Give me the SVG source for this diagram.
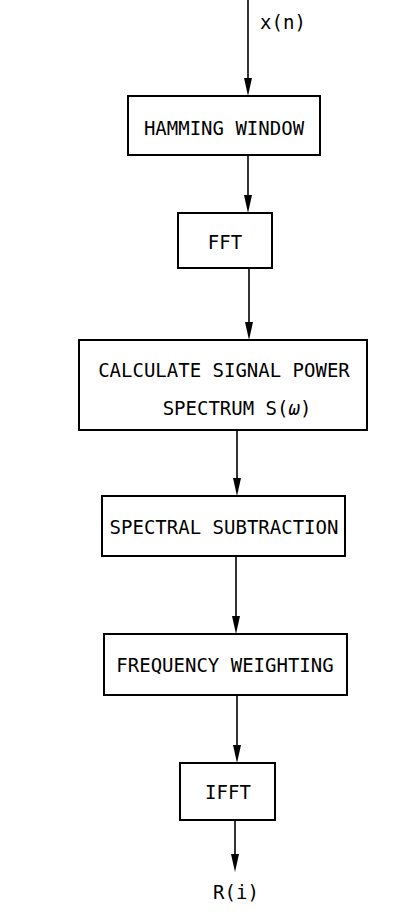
<svg xmlns="http://www.w3.org/2000/svg" width="414" height="923" viewBox="0 0 414 923">
<defs>
<marker id="ah" markerWidth="8" markerHeight="16" refX="4" refY="16" orient="auto" markerUnits="userSpaceOnUse" viewBox="0 0 8 16"><path d="M0,0 L8,0 L4,16 Z" fill="#000"/></marker>
<style>
.box{fill:#fff;stroke:#000;stroke-width:2}
.t{font-family:"DejaVu Sans Mono","Liberation Mono",monospace;font-size:19px;fill:#000;text-anchor:middle}
.c{stroke:#000;stroke-width:1.6;fill:none}
</style>
</defs>
<rect width="414" height="923" fill="#fff"/>
<g id="connectors">
<line class="c" x1="248" y1="0" x2="248" y2="80"/><path d="M244,78 L252,78 L248,96 Z"/>
<line class="c" x1="248" y1="155" x2="248" y2="197"/><path d="M244,195 L252,195 L248,213 Z"/>
<line class="c" x1="249" y1="268" x2="249" y2="324"/><path d="M245,322 L253,322 L249,340 Z"/>
<line class="c" x1="237" y1="430" x2="237" y2="480"/><path d="M233,478 L241,478 L237,496 Z"/>
<line class="c" x1="236" y1="556" x2="236" y2="618"/><path d="M232,616 L240,616 L236,634 Z"/>
<line class="c" x1="237" y1="695" x2="237" y2="747"/><path d="M233,745 L241,745 L237,763 Z"/>
<line class="c" x1="235" y1="820" x2="235" y2="856"/><path d="M231,854 L239,854 L235,872 Z"/>
</g>
<text class="t" x="283" y="29">x(n)</text>
<g id="hamming"><rect class="box" x="128" y="96" width="192" height="59"/><text class="t" x="224" y="135">HAMMING WINDOW</text></g>
<g id="fft"><rect class="box" x="178" y="213" width="94" height="55"/><text class="t" x="225" y="249">FFT</text></g>
<g id="calc"><rect class="box" x="79" y="340" width="288" height="90"/><text class="t" x="224" y="377">CALCULATE SIGNAL POWER</text><text class="t" x="237" y="415">SPECTRUM S(<tspan font-style="italic">ω</tspan>)</text></g>
<g id="spectral"><rect class="box" x="102" y="496" width="243" height="60"/><text class="t" x="224" y="534">SPECTRAL SUBTRACTION</text></g>
<g id="freq"><rect class="box" x="104" y="634" width="243" height="61"/><text class="t" x="225" y="672">FREQUENCY WEIGHTING</text></g>
<g id="ifft"><rect class="box" x="180" y="763" width="95" height="57"/><text class="t" x="228" y="799">IFFT</text></g>
<text class="t" x="236" y="899">R(i)</text>
</svg>
